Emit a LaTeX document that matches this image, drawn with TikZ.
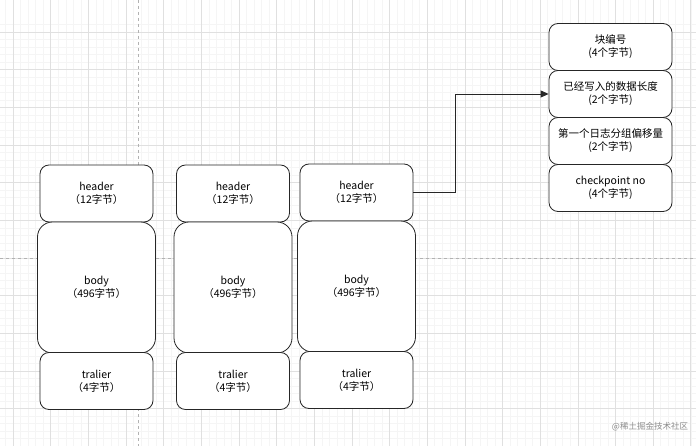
\documentclass[tikz,border=0pt]{standalone}
\usepackage{fontspec}
\setmainfont{Noto Sans CJK SC}
\usetikzlibrary{arrows.meta}

\tikzset{
  field/.style={draw=black!85, line width=0.8pt, fill=white, align=center,
    inner sep=0pt, rounded corners=9pt, font=\fontsize{10.5}{13}\selectfont},
  bigfield/.style={field, rounded corners=15pt},
}

\begin{document}
\begin{tikzpicture}[x=1pt, y=-1pt]

% Canvas
\useasboundingbox (0,0) rectangle (696,446);
\fill[white] (0,0) rectangle (696,446);

% Grid
\foreach \i in {-2,...,92}
  \draw[black!4, line width=0.4pt] ({13+7.53*\i},0) -- ({13+7.53*\i},446);
\foreach \i in {-1,...,60}
  \draw[black!4, line width=0.4pt] (0,{32+7.53*\i}) -- (696,{32+7.53*\i});
\foreach \i in {0,...,18}
  \draw[black!12, line width=0.5pt] ({13+37.65*\i},0) -- ({13+37.65*\i},446);
\foreach \i in {-1,...,11}
  \draw[black!12, line width=0.5pt] (0,{32+37.65*\i}) -- (696,{32+37.65*\i});
\draw[black!30, dash pattern=on 3pt off 3pt] (138,0) -- (138,446);
\draw[black!30, dash pattern=on 3pt off 3pt] (0,258) -- (696,258);

% Blocks
\foreach \n/\x/\dy in {1/96.5/0, 2/233/0, 3/356.5/-1} {
  \node[field, minimum width=113pt, minimum height=57pt] (h\n) at (\x,193.5+\dy) {header\\（12字节）};
  \node[bigfield, minimum width=118pt, minimum height=131pt] (b\n) at (\x,287.5+\dy) {body\\（496字节）};
  \node[field, minimum width=113pt, minimum height=57pt] (t\n) at (\x,381+\dy) {tralier\\（4字节）};
}

% Header fields
\node[field, minimum width=123pt, minimum height=47pt] (r1) at (610.5,47) {块编号\\(4个字节)};
\node[field, minimum width=123pt, minimum height=47pt] (r2) at (610.5,94) {已经写入的数据长度\\(2个字节)};
\node[field, minimum width=123pt, minimum height=47pt] (r3) at (610.5,141) {第一个日志分组偏移量\\(2个字节)};
\node[field, minimum width=123pt, minimum height=47pt] (r4) at (610.5,188) {checkpoint no\\(4个字节)};

% Arrow
\draw[black!85, line width=0.8pt, -{Triangle[length=8pt, width=7pt]}] (h3.east) -- ++(42,0) |- (r2.west);

% Watermark
\node[text=black!45, font=\fontsize{8.5}{10}\selectfont] (mark) at (650,427) {@稀土掘金技术社区};

\end{tikzpicture}
\end{document}
